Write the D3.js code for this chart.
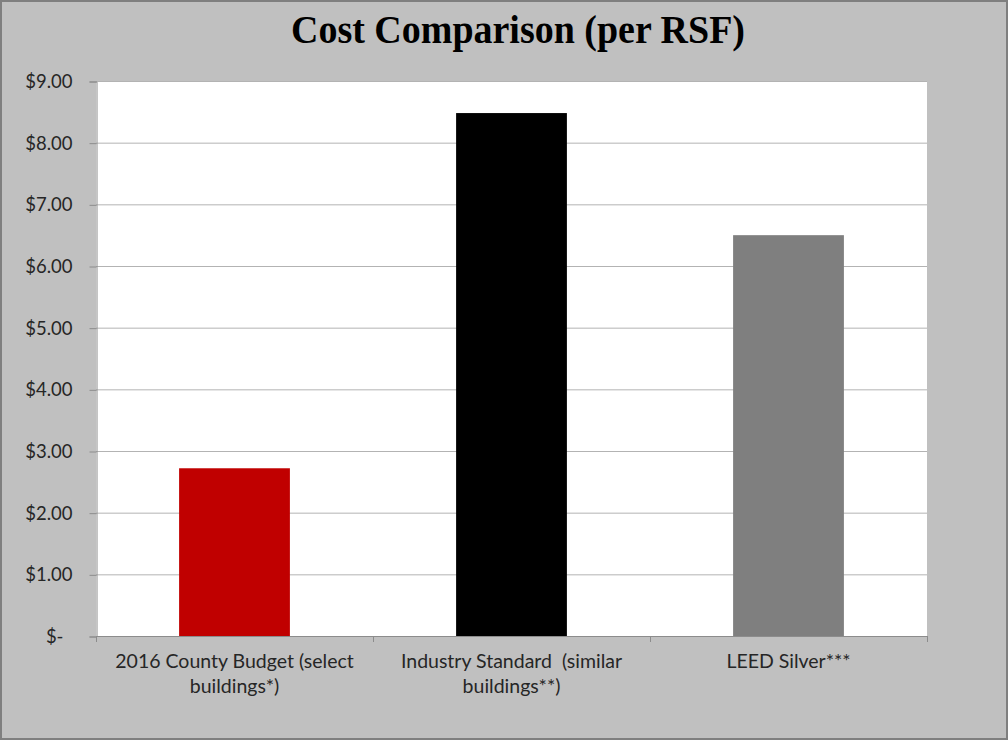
<!DOCTYPE html>
<html>
<head>
<meta charset="utf-8">
<script src="https://cdn.jsdelivr.net/npm/d3@7"></script>
<style>
  html, body { margin: 0; padding: 0; background: #fff; }
  svg text { font-family: Lato, "Open Sans", sans-serif; fill: #262626; }
</style>
</head>
<body>
<div id="chart"></div>
<script>
// chart data
var categories = ["2016 County Budget (select buildings*)", "Industry Standard  (similar buildings**)", "LEED Silver***"];
var categoryLines = [["2016 County Budget (select", "buildings*)"], ["Industry Standard  (similar", "buildings**)"], ["LEED Silver***"]];
var costs = [2.72, 8.48, 6.50];
var barColors = ["#c00000", "#000000", "#7f7f7f"];
var yTicks = [0, 1, 2, 3, 4, 5, 6, 7, 8, 9];
var title = "Cost Comparison (per RSF)";

// page size
var width = 1008;
var height = 740;

// plot area
var plot = { left: 96, right: 927, top: 81, bottom: 636 };

var svg = d3.select("#chart")
    .append("svg")
    .attr("width", width)
    .attr("height", height);

// grey frame
svg.append("rect")
    .attr("x", 1)
    .attr("y", 1)
    .attr("width", width - 2)
    .attr("height", height - 2)
    .attr("fill", "#c0c0c0")
    .attr("stroke", "#7f7f7f")
    .attr("stroke-width", 2);

svg.append("text")
    .attr("x", 518)
    .attr("y", 43)
    .attr("text-anchor", "middle")
    .attr("textLength", 454)
    .attr("lengthAdjust", "spacingAndGlyphs")
    .style("font-family", "'Liberation Serif', 'Times New Roman', serif")
    .style("font-weight", "bold")
    .style("font-size", "40px")
    .style("fill", "#000")
    .text(title);

// scales
var x = d3.scaleBand()
    .domain(categories)
    .range([plot.left, plot.right])
    .paddingInner(0.6)
    .paddingOuter(0.3);

var xSlot = d3.scaleBand()
    .domain(categories)
    .range([plot.left, plot.right]);

var y = d3.scaleLinear()
    .domain([0, 9])
    .range([plot.bottom, plot.top]);

// white plot background
svg.append("rect")
    .attr("x", plot.left)
    .attr("y", plot.top)
    .attr("width", plot.right - plot.left)
    .attr("height", plot.bottom - plot.top)
    .attr("fill", "#fff");

// gridlines
svg.append("g")
    .selectAll("line")
    .data(yTicks.filter(function(d) { return d > 0; }))
    .enter()
    .append("line")
    .attr("x1", plot.left)
    .attr("x2", plot.right)
    .attr("y1", function(d) { return y(d) + 0.5; })
    .attr("y2", function(d) { return y(d) + 0.5; })
    .attr("stroke", "#b3b3b3")
    .attr("stroke-width", 1);

// bars
svg.append("g")
    .selectAll("rect")
    .data(costs)
    .enter()
    .append("rect")
    .attr("x", function(d, i) { return x(categories[i]); })
    .attr("y", function(d) { return y(d); })
    .attr("width", x.bandwidth())
    .attr("height", function(d) { return y(0) - y(d); })
    .attr("fill", function(d, i) { return barColors[i]; });

// y axis
var yAxis = d3.axisLeft(y)
    .tickValues(yTicks)
    .tickSize(7)
    .tickPadding(17)
    .tickFormat(function(d) { return d === 0 ? "$-" : "$" + d3.format(".2f")(d); });

var yG = svg.append("g")
    .attr("transform", "translate(" + (plot.left + 0.5) + ",0.5)")
    .call(yAxis);

yG.selectAll("line, path").attr("stroke", "#8c8c8c");
yG.selectAll("text")
    .style("font-size", "18.5px")
    .attr("dx", function(d) { return d === 0 ? -9 : 0; });

// x axis: ticks at category boundaries
var xG = svg.append("g");
xG.append("line")
    .attr("x1", plot.left)
    .attr("x2", plot.right)
    .attr("y1", plot.bottom + 0.5)
    .attr("y2", plot.bottom + 0.5)
    .attr("stroke", "#8c8c8c");

var bounds = categories.map(function(c) { return xSlot(c); }).concat([plot.right]);
xG.selectAll(".xtick")
    .data(bounds)
    .enter()
    .append("line")
    .attr("class", "xtick")
    .attr("x1", function(d) { return d + 0.5; })
    .attr("x2", function(d) { return d + 0.5; })
    .attr("y1", plot.bottom)
    .attr("y2", plot.bottom + 6)
    .attr("stroke", "#8c8c8c");

// category labels
var labels = xG.selectAll(".xlabel")
    .data(categories)
    .enter()
    .append("text")
    .attr("class", "xlabel")
    .attr("x", function(d) { return xSlot(d) + xSlot.bandwidth() / 2; })
    .attr("y", 668)
    .attr("text-anchor", "middle")
    .style("font-size", "19.5px");

labels.each(function(d, i) {
    var t = d3.select(this);
    categoryLines[i].forEach(function(line, j) {
        t.append("tspan")
            .attr("x", xSlot(d) + xSlot.bandwidth() / 2)
            .attr("dy", j === 0 ? 0 : 25)
            .style("white-space", "pre")
            .text(line);
    });
});
</script>
</body>
</html>
